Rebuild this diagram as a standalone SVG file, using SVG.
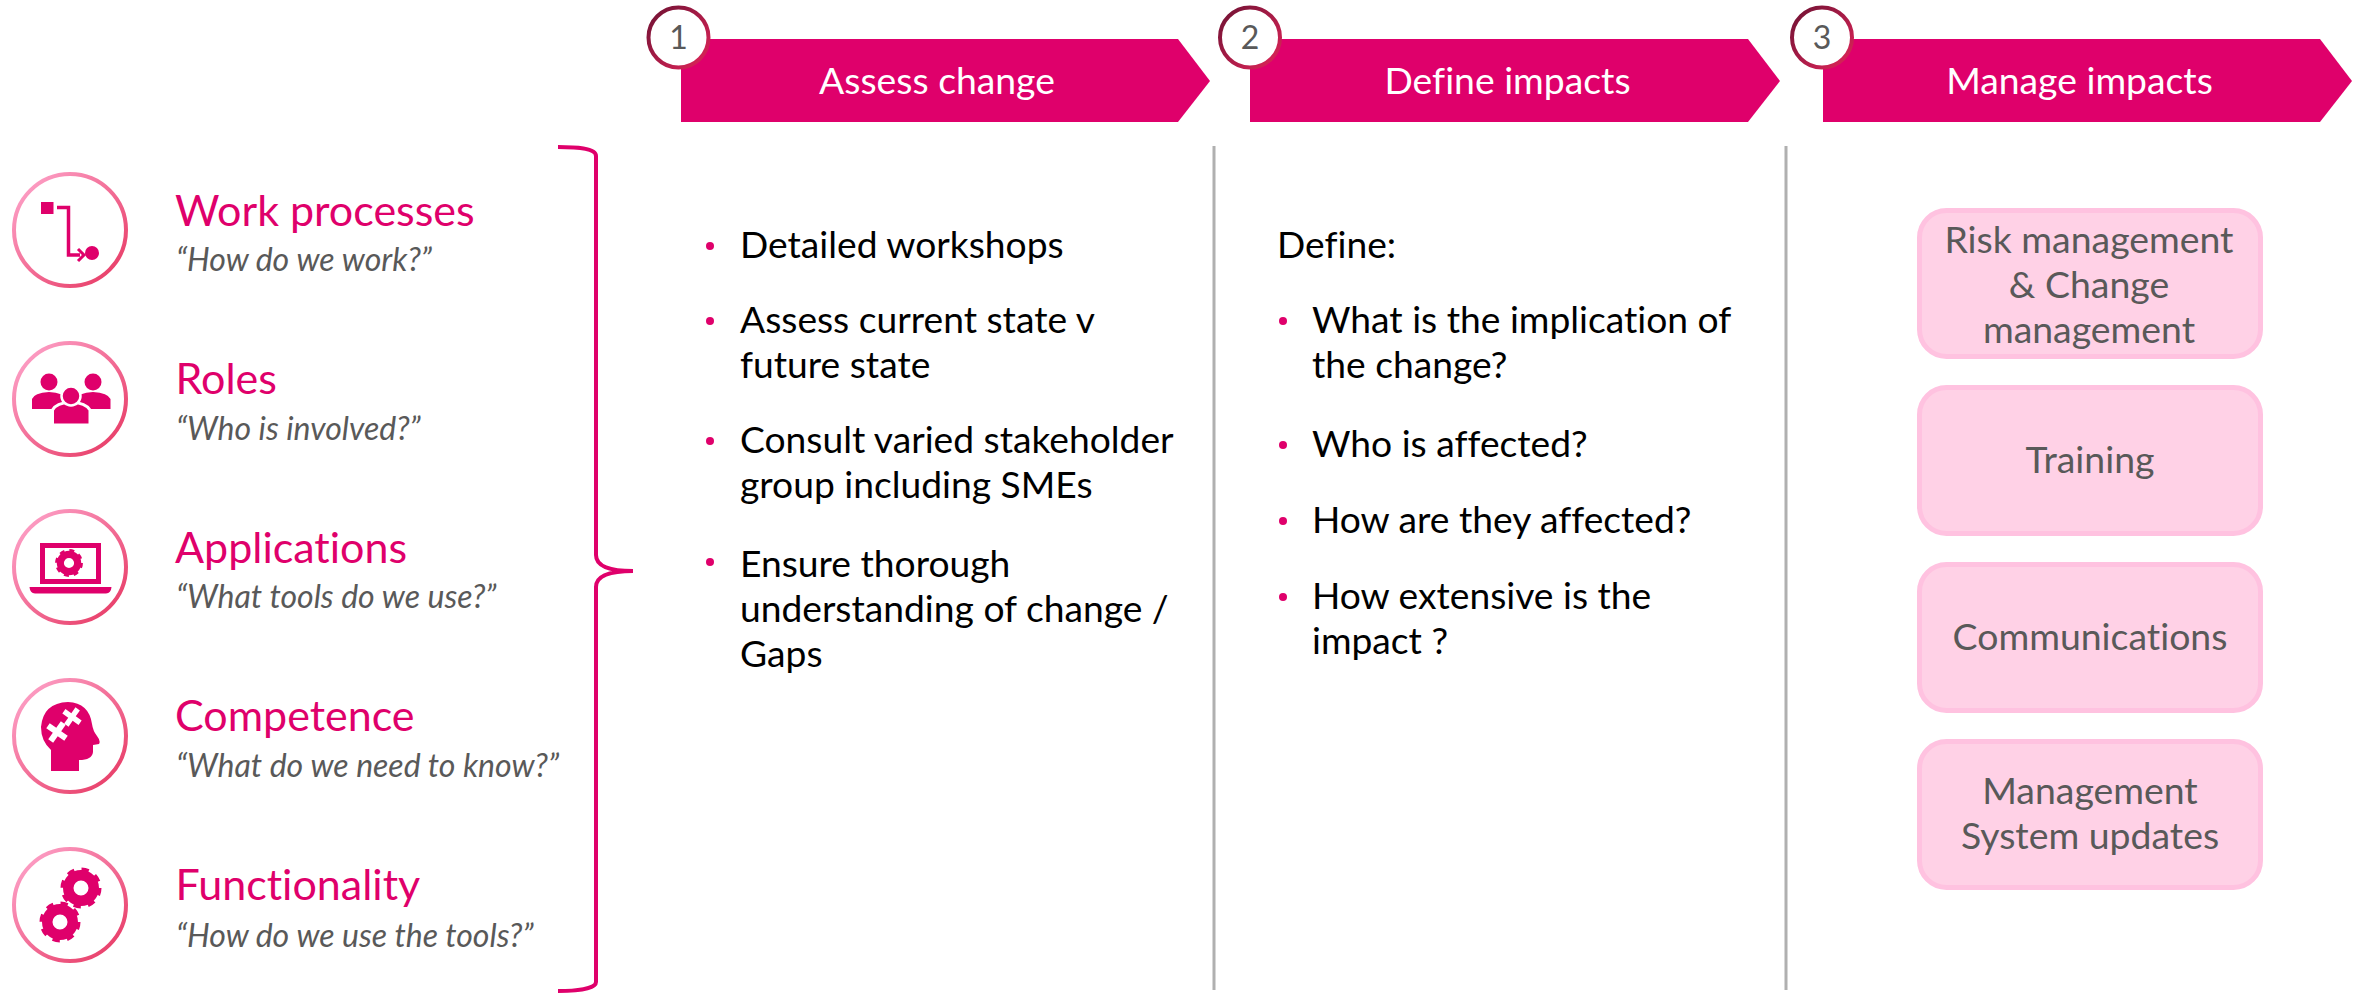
<svg xmlns="http://www.w3.org/2000/svg" width="2364" height="1006" viewBox="0 0 2364 1006">
<style>
text{font-family:Lato,"Open Sans","Liberation Sans",sans-serif;font-variant-ligatures:none}
.t{font-size:43px;fill:#df006b}
.s{font-size:32px;font-style:italic;fill:#595959}
.h{font-size:37.300px;fill:#fff;text-anchor:middle}
.n{font-size:32px;fill:#595959;text-anchor:middle}
.b{font-size:37.200px;fill:#000}
.d{fill:#df006b}
.o{font-size:37.400px;fill:#595959;text-anchor:middle}
.ic{fill:#df006b}
.ring{fill:#fff;stroke:url(#rg);stroke-width:4}
.num{fill:#fff;stroke:url(#ng);stroke-width:4}
.box{fill:#ffd1e6;stroke:#ffc2e0;stroke-width:5}
.arrow{fill:#df006b}
.div{stroke:#b0b0b0;stroke-width:3;fill:none}
</style>
<defs>
<linearGradient id="rg" x1="0" y1="0" x2="1" y2="1"><stop offset="0" stop-color="#ffa9cf"/><stop offset="1" stop-color="#e6345f"/></linearGradient>
<linearGradient id="ng" x1="0" y1="0" x2="1" y2="1"><stop offset="0" stop-color="#6f1233"/><stop offset="1" stop-color="#e0255a"/></linearGradient>
<g id="gear"><circle r="12.750" fill="none" stroke="#df006b" stroke-width="10.500"/><circle r="17.500" fill="none" stroke="#df006b" stroke-width="6" stroke-dasharray="6.87 6.87"/></g>
<path id="piece" fill="#fff" d="M-3-11H3V-3H11V3H3V11H-3V3H-11V-3H-3Z"/>
</defs>

<g id="connectors">
<path d="M558 147C575 147 596 148 596 156V555C596 566 610 571 633 571C610 571 596 576 596 587V982C596 989 575 991 558 991" fill="none" stroke="#df006b" stroke-width="4"/>
<path class="div" d="M1214 146V990M1786 146V990"/>
</g>

<g id="step1">
<path class="arrow" d="M681 39H1178L1210 81L1178 122H681Z"/>
<circle class="num" cx="678.500" cy="37.500" r="30"/>
<text class="n" x="678.500" y="49">1</text>
<text class="h" x="937" y="94">Assess change</text>
</g>
<g id="step2">
<path class="arrow" d="M1250 39H1748L1780 81L1748 122H1250Z"/>
<circle class="num" cx="1250" cy="37.500" r="30"/>
<text class="n" x="1250" y="49">2</text>
<text class="h" x="1507.500" y="94">Define impacts</text>
</g>
<g id="step3">
<path class="arrow" d="M1823 39H2320L2352 81L2320 122H1823Z"/>
<circle class="num" cx="1822" cy="37.500" r="30"/>
<text class="n" x="1822" y="49">3</text>
<text class="h" x="2079.500" y="94">Manage impacts</text>
</g>

<g id="work-processes">
<circle class="ring" cx="70" cy="230" r="56"/>
<rect class="ic" x="41" y="202" width="12.500" height="12"/>
<path d="M57 207.500H68.500V255H80" fill="none" stroke="#df006b" stroke-width="3.500"/>
<path d="M78 249L84 255L78 261" fill="none" stroke="#df006b" stroke-width="3"/>
<circle class="ic" cx="92" cy="253" r="7"/>
<text class="t" x="175" y="226">Work processes</text>
<text class="s" x="176" y="271">“How do we work?”</text>
</g>

<g id="roles">
<circle class="ring" cx="70" cy="399" r="56"/>
<circle class="ic" cx="49" cy="382" r="8.500"/><circle class="ic" cx="93" cy="382" r="8.500"/>
<path class="ic" d="M32 409V399Q34 393 49 392Q64 393 66 399V409ZM76 409V399Q78 393 93 392Q108 393 110.500 399V409Z"/>
<path class="ic" stroke="#fff" stroke-width="3" d="M52.500 425V410Q56 403 71 402Q86 403 90 410V425Z"/>
<circle class="ic" stroke="#fff" stroke-width="2.500" cx="71" cy="396" r="9.500"/>
<text class="t" x="175.500" y="394">Roles</text>
<text class="s" x="176" y="440">“Who is involved?”</text>
</g>

<g id="applications">
<circle class="ring" cx="70" cy="567" r="56"/>
<rect x="42.500" y="545.500" width="56" height="36" fill="none" stroke="#df006b" stroke-width="5"/>
<path class="ic" d="M29.500 587H111.500Q111 593 106 593.500H35Q30 593 29.500 587Z"/>
<use href="#gear" transform="translate(69 563) scale(.68)"/>
<text class="t" x="175" y="563">Applications</text>
<text class="s" x="176" y="608">“What tools do we use?”</text>
</g>

<g id="competence">
<circle class="ring" cx="70" cy="736" r="56"/>
<path class="ic" d="M51 771V750Q41 741 41 727Q43 703 68 702Q89 703 92 724Q93 731 97 736Q101 741 99 744L93 745V752Q92 760 79 760V771Z"/>
<use href="#piece" transform="translate(57 732) rotate(35)"/>
<use href="#piece" transform="translate(72 717) rotate(35) scale(.9)"/>
<text class="t" x="175" y="731">Competence</text>
<text class="s" x="176" y="777">“What do we need to know?”</text>
</g>

<g id="functionality">
<circle class="ring" cx="70" cy="905" r="56"/>
<use href="#gear" transform="translate(81 888)"/>
<use href="#gear" transform="translate(60 922)"/>
<text class="t" x="175.500" y="900">Functionality</text>
<text class="s" x="176" y="947">“How do we use the tools?”</text>
</g>

<g id="assess-text">
<circle class="d" cx="710" cy="246" r="4"/><circle class="d" cx="710" cy="321" r="4"/><circle class="d" cx="710" cy="441" r="4"/><circle class="d" cx="710" cy="562" r="4"/>
<text class="b" x="740" y="258">Detailed workshops</text>
<text class="b" x="740" y="333">Assess current state v</text>
<text class="b" x="740" y="378">future state</text>
<text class="b" x="740" y="453">Consult varied stakeholder</text>
<text class="b" x="740" y="498">group including SMEs</text>
<text class="b" x="740" y="577">Ensure thorough</text>
<text class="b" x="740" y="622">understanding of change /</text>
<text class="b" x="740" y="667">Gaps</text>
</g>
<g id="define-text">
<text class="b" x="1277" y="258">Define:</text>
<circle class="d" cx="1283" cy="321" r="4"/><circle class="d" cx="1283" cy="445" r="4"/><circle class="d" cx="1283" cy="521" r="4"/><circle class="d" cx="1283" cy="597" r="4"/>
<text class="b" x="1312" y="333">What is the implication of</text>
<text class="b" x="1312" y="378">the change?</text>
<text class="b" x="1312" y="457">Who is affected?</text>
<text class="b" x="1312" y="533">How are they affected?</text>
<text class="b" x="1312" y="609">How extensive is the</text>
<text class="b" x="1312" y="654">impact ?</text>
</g>

<g id="risk-box"><rect class="box" x="1919.500" y="210.500" width="341" height="146" rx="27"/>
<text class="o" x="2089" y="253">Risk management</text><text class="o" x="2089" y="298">&amp; Change</text><text class="o" x="2089" y="343">management</text></g>
<g id="training-box"><rect class="box" x="1919.500" y="387.500" width="341" height="146" rx="27"/>
<text class="o" x="2090" y="473">Training</text></g>
<g id="comms-box"><rect class="box" x="1919.500" y="564.500" width="341" height="146" rx="27"/>
<text class="o" x="2090" y="650">Communications</text></g>
<g id="ms-box"><rect class="box" x="1919.500" y="741.500" width="341" height="146" rx="27"/>
<text class="o" x="2090" y="804">Management</text><text class="o" x="2090" y="849">System updates</text></g>
</svg>
